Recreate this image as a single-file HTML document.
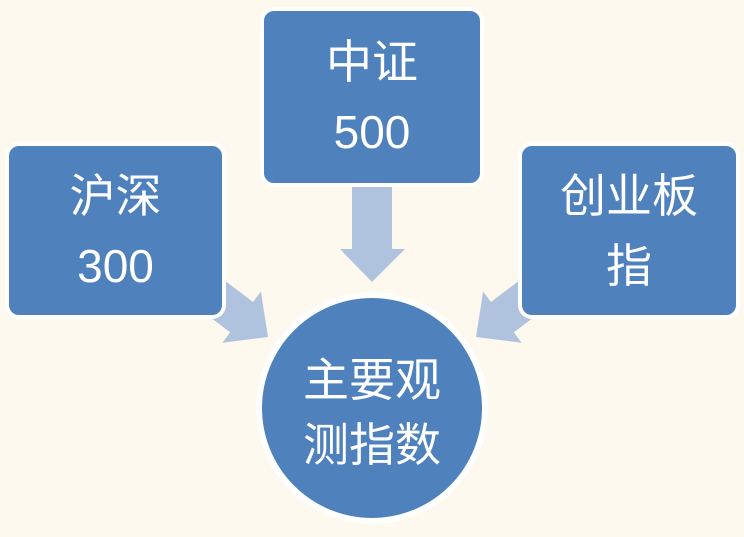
<!DOCTYPE html>
<html><head><meta charset="utf-8"><style>
body{margin:0;width:744px;height:537px;background:#fdf9ef;position:relative;overflow:hidden;font-family:"Liberation Sans","Noto Sans CJK SC",sans-serif;}
.b{position:absolute;background:#4f81bd;border:4px solid #fff;border-radius:14px;box-sizing:border-box;color:#fff;font-size:46px;line-height:70px;text-align:center;display:flex;flex-direction:column;justify-content:center;}
svg{position:absolute;left:0;top:0}
</style></head><body>
<svg width="744" height="537">
<g fill="#b0c3de">
<polygon points="352,187 392,187 392,249 405,249 372,282 340,249 352,249"/>
<polygon transform="translate(268,337) rotate(37)" points="0,0 -33,-32 -33,-19 -110,-19 -110,19 -33,19 -33,32"/>
<polygon transform="translate(476,337) rotate(143)" points="0,0 -33,-32 -33,-19 -110,-19 -110,19 -33,19 -33,32"/>
</g>
<circle cx="372" cy="408" r="113" fill="#4f81bd" stroke="#fff" stroke-width="6"/>
<text x="372" y="396" fill="#fff" font-size="46" text-anchor="middle" font-family="Liberation Sans, Noto Sans CJK SC, sans-serif">主要观</text>
<text x="372" y="461" fill="#fff" font-size="46" text-anchor="middle" font-family="Liberation Sans, Noto Sans CJK SC, sans-serif">测指数</text>
</svg>
<div class="b" style="left:5px;top:142px;width:221px;height:177px">沪深<br>300</div>
<div class="b" style="left:260px;top:7px;width:224px;height:180px">中证<br>500</div>
<div class="b" style="left:518px;top:142px;width:222px;height:177px">创业板<br>指</div>
</body></html>
